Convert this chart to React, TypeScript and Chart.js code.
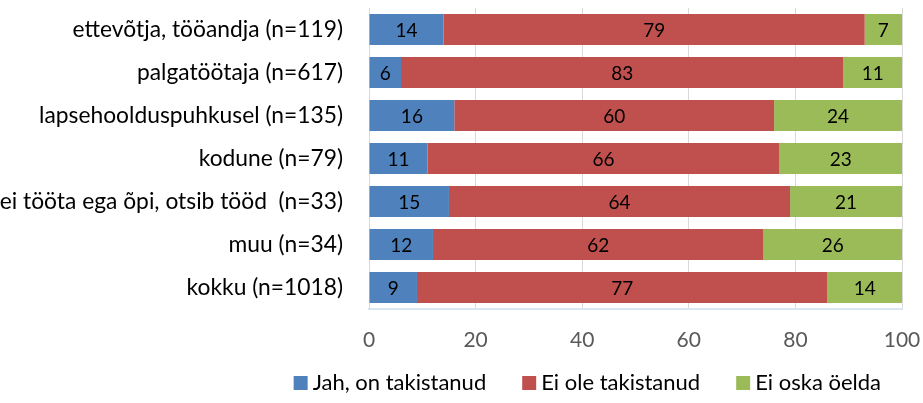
import React, { useEffect, useRef } from "react";
import { Chart, registerables } from "chart.js";

Chart.register(...registerables);

const categories = [
  "ettevõtja, tööandja (n=119)",
  "palgatöötaja (n=617)",
  "lapsehoolduspuhkusel (n=135)",
  "kodune (n=79)",
  "ei tööta ega õpi, otsib tööd  (n=33)",
  "muu (n=34)",
  "kokku (n=1018)",
];
const seriesNames = ["Jah, on takistanud", "Ei ole takistanud", "Ei oska öelda"];
const jah = [14, 6, 16, 11, 15, 12, 9];
const eiOle = [79, 83, 60, 66, 64, 62, 77];
const eiOska = [7, 11, 24, 23, 21, 26, 14];
const colors = ["#4F81BD", "#C0504D", "#9BBB59"];
const xTicks = [0, 20, 40, 60, 80, 100];

const FONT = "Lato";

const labelPlugin = {
  id: "segLabels",
  afterLayout(chart: any) {
    // let the x tick labels draw below the (short) axis box without being clipped
    const xs = chart.scales.x;
    xs.bottom = chart.height;
  },
  afterDatasetsDraw(chart: any) {
    const ctx = chart.ctx;
    ctx.save();
    ctx.font = `19px ${FONT}`;
    ctx.fillStyle = "#000000";
    ctx.textAlign = "center";
    ctx.textBaseline = "middle";
    chart.data.datasets.forEach((ds: any, di: number) => {
      const meta = chart.getDatasetMeta(di);
      meta.data.forEach((el: any, i: number) => {
        const v = ds.data[i];
        const { x, base, y } = el.getProps(["x", "base", "y"], true);
        ctx.fillText(String(v), (x + base) / 2, y + 1);
      });
    });
    ctx.restore();
  },
};

export default function App() {
  const ref = useRef<HTMLCanvasElement | null>(null);
  useEffect(() => {
    document.body.style.margin = "0";
    const chart = new Chart(ref.current!, {
      type: "bar",
      data: {
        labels: categories,
        datasets: [jah, eiOle, eiOska].map((d, i) => ({
          label: seriesNames[i],
          data: d,
          backgroundColor: colors[i],
          borderWidth: 0,
          barPercentage: 0.72,
          categoryPercentage: 1,
        })),
      },
      options: {
        indexAxis: "y",
        animation: false,
        responsive: false,
        layout: { padding: { top: 8, right: 0, left: 0, bottom: -1 } },
        scales: {
          x: {
            stacked: true,
            min: 0,
            max: 100,
            afterBuildTicks: (s: any) => {
              s.ticks = xTicks.map((v) => ({ value: v }));
            },
            afterFit: (s: any) => {
              s.height = 21;
              s.paddingLeft = 0;
              s.paddingRight = 21;
            },
            grid: { color: "#D9D9D9", drawTicks: false },
            border: { color: "#DCE6F2", width: 2 },
            ticks: { color: "#595959", font: { size: 21, family: FONT }, padding: 19 },
          },
          y: {
            stacked: true,
            afterFit: (s: any) => {
              s.width = 369;
              s.paddingTop = 0;
              s.paddingBottom = 0;
            },
            grid: { display: false, drawTicks: false },
            border: { color: "#D9D9D9", width: 1 },
            ticks: { color: "#000000", font: { size: 22.8, family: FONT }, padding: 26 },
          },
        },
        plugins: {
          legend: {
            position: "bottom",
            align: "end",
            labels: {
              usePointStyle: true,
              pointStyle: "rect",
              boxWidth: 2,
              boxHeight: 14,
              padding: 42,
              color: "#000000",
              font: { size: 22, family: FONT },
            },
          },
          tooltip: { enabled: false },
        },
      },
      plugins: [labelPlugin],
    } as any);
    return () => chart.destroy();
  }, []);
  return (
    <div style={{ width: 923, height: 403 }}>
      <canvas ref={ref} width={923} height={403} style={{ display: "block" }} />
    </div>
  );
}
